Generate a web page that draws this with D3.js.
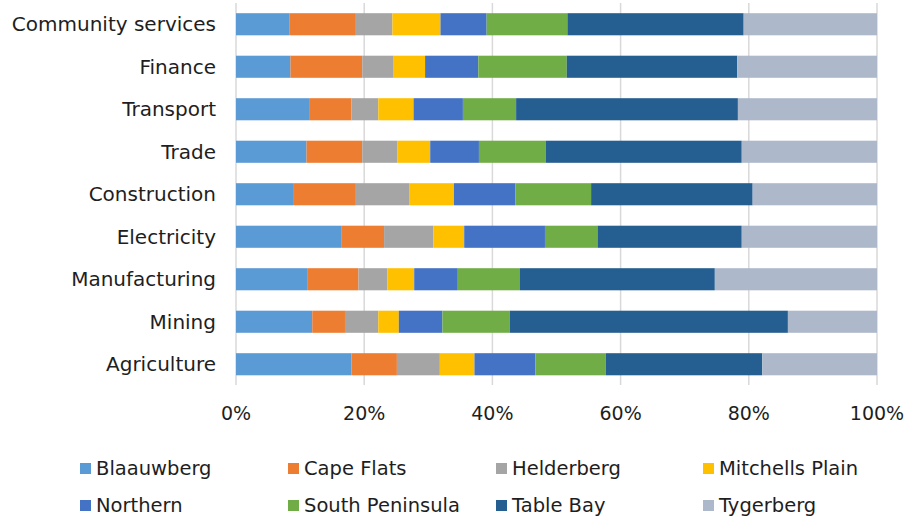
<!DOCTYPE html>
<html><head><meta charset="utf-8">
<script src="https://cdn.jsdelivr.net/npm/d3@7"></script>
<style>body{margin:0;background:#fff;} svg{display:block;} text{font-family:"DejaVu Sans",sans-serif;fill:#1e1e1e;}</style>
</head><body><svg id="c" width="906" height="520"></svg>
<script>
const categories = ["Community services","Finance","Transport","Trade","Construction","Electricity","Manufacturing","Mining","Agriculture"];
const seriesNames = ["Blaauwberg","Cape Flats","Helderberg","Mitchells Plain","Northern","South Peninsula","Table Bay","Tygerberg"];
const blaauwberg     = [8.3, 8.5, 11.4, 11.0, 8.9, 16.5, 11.2, 11.9, 18.0];
const capeFlats      = [10.4, 11.2, 6.6, 8.7, 9.8, 6.6, 7.9, 5.1, 7.1];
const helderberg     = [5.7, 4.9, 4.2, 5.5, 8.3, 7.7, 4.5, 5.2, 6.7];
const mitchellsPlain = [7.5, 4.9, 5.5, 5.1, 7.0, 4.8, 4.2, 3.2, 5.4];
const northern       = [7.2, 8.3, 7.7, 7.6, 9.6, 12.6, 6.8, 6.8, 9.5];
const southPeninsula = [12.6, 13.8, 8.3, 10.4, 11.8, 8.2, 9.7, 10.5, 11.0];
const tableBay       = [27.5, 26.6, 34.6, 30.6, 25.2, 22.5, 30.4, 43.4, 24.4];
const tygerberg      = [20.8, 21.8, 21.7, 21.1, 19.4, 21.1, 25.3, 13.9, 17.9];
const seriesValues = [blaauwberg, capeFlats, helderberg, mitchellsPlain, northern, southPeninsula, tableBay, tygerberg];
const tickLabels = ["0%","20%","40%","60%","80%","100%"];
const colors = ["#5B9BD5","#ED7D31","#A5A5A5","#FFC000","#4472C4","#70AD47","#255E91","#ADB9CA"];

const svg = d3.select("#c");
const x = d3.scaleLinear().domain([0,1]).range([236,877]);
const y = d3.scaleBand().domain(categories).range([3,385.5]).paddingInner(0.48).paddingOuter(0.24);

const rows = categories.map((c,i)=>{
  const vals = seriesValues.map(s=>s[i]);
  const tot = d3.sum(vals);
  let acc = 0;
  return vals.map((v,j)=>{ const a=acc/tot; acc+=v; return {cat:c, j, x0:a, x1:acc/tot}; });
});

// gridlines
svg.append("g").selectAll("line").data(d3.range(0,1.0001,0.2)).join("line")
  .attr("x1",d=>x(d)).attr("x2",d=>x(d)).attr("y1",3).attr("y2",385)
  .attr("stroke","#D9D9D9").attr("stroke-width",1.5);

svg.append("g").selectAll("g").data(rows).join("g")
  .selectAll("rect").data(d=>d).join("rect")
  .attr("x",d=>x(d.x0)).attr("width",d=>x(d.x1)-x(d.x0))
  .attr("y",d=>y(d.cat)).attr("height",y.bandwidth())
  .attr("fill",d=>colors[d.j]);

// category labels
svg.append("g").selectAll("text").data(categories).join("text")
  .attr("x",216).attr("y",d=>y(d)+y.bandwidth()/2).attr("dy","0.35em")
  .attr("text-anchor","end").attr("font-size",20).text(d=>d);

// x tick labels
svg.append("g").selectAll("text").data(tickLabels).join("text")
  .attr("x",(d,i)=>x(i*0.2)).attr("y",420).attr("text-anchor","middle")
  .attr("font-size",19).text(d=>d);

// legend
const lx = [80,288,496,703], ly=[468,505];
const leg = svg.append("g").selectAll("g").data(seriesNames).join("g")
  .attr("transform",(d,i)=>`translate(${lx[i%4]},${ly[Math.floor(i/4)]})`);
leg.append("rect").attr("x",0).attr("y",-5).attr("width",11).attr("height",11).attr("fill",(d,i)=>colors[i]);
leg.append("text").attr("x",16).attr("y",0).attr("dy","0.35em").attr("font-size",19.5).text(d=>d);
</script></body></html>
